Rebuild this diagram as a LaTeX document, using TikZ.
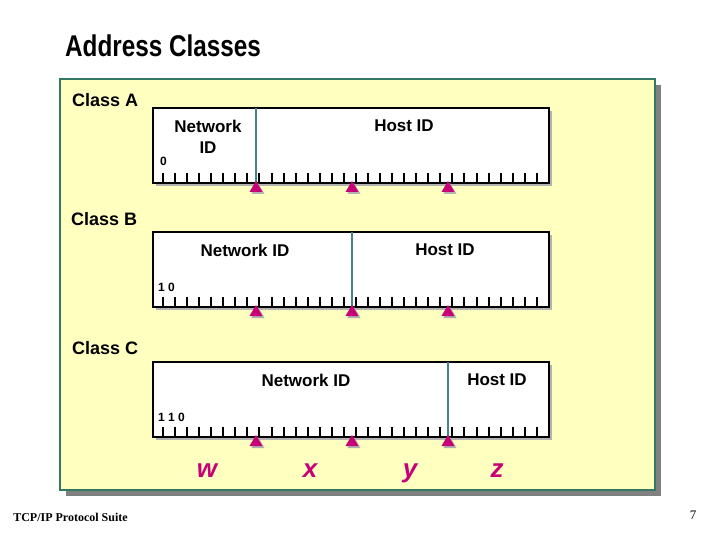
\documentclass[tikz,border=0pt]{standalone}
\usepackage{fontspec}
\usepackage{graphicx}
\setmainfont{Liberation Serif}
\setsansfont{Liberation Sans}
\usetikzlibrary{positioning,shadows}
\definecolor{pad}{RGB}{255,255,192}
\definecolor{rim}{RGB}{50,120,100}
\definecolor{divide}{RGB}{70,130,140}
\definecolor{berry}{RGB}{200,0,120}
\tikzset{
  heading/.style={font=\sffamily\bfseries\fontsize{30}{34}\selectfont,anchor=west,inner sep=0pt},
  panel/.style={fill=pad,draw=rim,line width=1.2pt},
  field/.style={draw=black,fill=white,line width=1.6pt,minimum width=396pt,
    minimum height=75pt,inner sep=0pt,
    drop shadow={shadow xshift=3pt,shadow yshift=-3pt,fill=black!30,opacity=1}},
  classname/.style={font=\sffamily\bfseries\fontsize{18}{20}\selectfont,anchor=west,inner sep=0pt},
  part/.style={font=\sffamily\bfseries\fontsize{17}{21}\selectfont,align=center,inner sep=0pt},
  bits/.style={font=\sffamily\bfseries\fontsize{12}{13}\selectfont,anchor=west,inner sep=0pt},
  divider/.style={draw=divide,line width=1.5pt},
  tick/.style={line width=2pt},
  octet/.style={font=\sffamily\bfseries\itshape\fontsize{26}{28}\selectfont,text=berry,anchor=base},
  footer/.style={font=\rmfamily\bfseries\fontsize{12}{14}\selectfont},
}

\begin{document}
\begin{tikzpicture}[x=1pt,y=-1pt]
  \useasboundingbox (0,0) rectangle (720,540);
  \node[heading] (title) at (65,46) {\scalebox{0.81}[1]{Address Classes}};
  % yellow panel and its shadow
  \fill[black!50] (66,85) rectangle (661,496);
  \draw[panel] (60,79) rectangle (655,490);

  % class A
  \node[classname] (nameA) at (72,100) {Class A};
  \node[field] (boxA) at (351,145.5) {};
  \draw[divider] (256,108) -- (256,183);
  \node[part] (netA) at (208,136.5) {Network\\ID};
  \node[part] (hostA) at (404,126) {Host ID};
  \node[bits] (bitsA) at (160,161) {0};

  % class B
  \node[classname] (nameB) at (71,219) {Class B};
  \node[field] (boxB) at (351,269.5) {};
  \draw[divider] (352,232) -- (352,307);
  \node[part] (netB) at (245,250) {Network ID};
  \node[part] (hostB) at (445,250) {Host ID};
  \node[bits] (bitsB) at (158,287) {1 0};

  % class C
  \node[classname] (nameC) at (72,348) {Class C};
  \node[field] (boxC) at (351,399.5) {};
  \draw[divider] (448,362) -- (448,437);
  \node[part] (netC) at (306,380) {Network ID};
  \node[part] (hostC) at (497,380) {Host ID};
  \node[bits] (bitsC) at (158,417) {1 1 0};

  % bit ruler and octet marks
  \foreach \yb in {183,307,437} {
    \foreach \k in {0,...,31}
      \draw[tick] ({163+round(12.06*\k)},\yb) -- ++(0,-10);
    \foreach \p in {256,352,448} {
      \fill[black!30] (\p+2,\yb) -- ++(-6.5,11) -- ++(13,0) -- cycle;
      \fill[berry] (\p,\yb-2) -- ++(-6.5,11) -- ++(13,0) -- cycle;
    }
  }
  \node[octet] (w) at (207,477) {w};
  \node[octet] (x) at (310,477) {x};
  \node[octet] (y) at (410,477) {y};
  \node[octet] (z) at (497,477) {z};

  % slide footer
  \node[footer] (suite) at (70.5,517) {TCP/IP Protocol Suite};
  \node[font=\rmfamily\fontsize{13}{14}\selectfont] (page) at (693,515) {7};
\end{tikzpicture}
\end{document}
